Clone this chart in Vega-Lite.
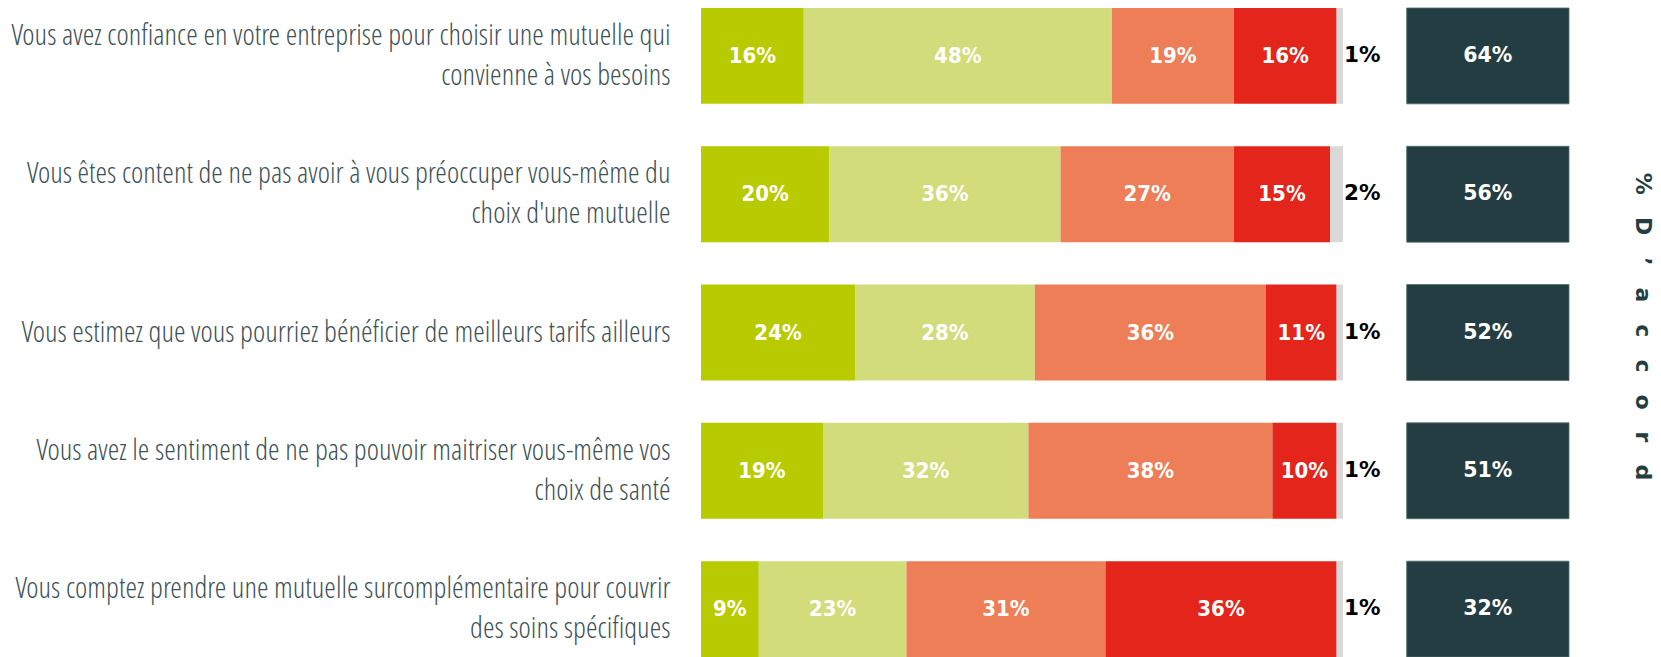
{
  "$schema": "https://vega.github.io/schema/vega-lite/v6.json",
  "autosize": "none",
  "width": 960,
  "height": 649,
  "padding": {"left": 701, "top": 8, "right": 0, "bottom": 0},
  "background": "white",
  "config": {"view": {"stroke": null}, "axis": {"grid": false}},
  "datasets": {
    "reponses": [
      {"question": "Vous avez confiance en votre entreprise pour choisir une mutuelle qui|convienne à vos besoins", "categorie": "Tout à fait d'accord", "ordre": 1, "valeur": 0.16},
      {"question": "Vous avez confiance en votre entreprise pour choisir une mutuelle qui|convienne à vos besoins", "categorie": "Plutôt d'accord", "ordre": 2, "valeur": 0.48},
      {"question": "Vous avez confiance en votre entreprise pour choisir une mutuelle qui|convienne à vos besoins", "categorie": "Plutôt pas d'accord", "ordre": 3, "valeur": 0.19},
      {"question": "Vous avez confiance en votre entreprise pour choisir une mutuelle qui|convienne à vos besoins", "categorie": "Pas du tout d'accord", "ordre": 4, "valeur": 0.16},
      {"question": "Vous avez confiance en votre entreprise pour choisir une mutuelle qui|convienne à vos besoins", "categorie": "NSP", "ordre": 5, "valeur": 0.01},
      {"question": "Vous êtes content de ne pas avoir à vous préoccuper vous-même du|choix d'une mutuelle", "categorie": "Tout à fait d'accord", "ordre": 1, "valeur": 0.20},
      {"question": "Vous êtes content de ne pas avoir à vous préoccuper vous-même du|choix d'une mutuelle", "categorie": "Plutôt d'accord", "ordre": 2, "valeur": 0.36},
      {"question": "Vous êtes content de ne pas avoir à vous préoccuper vous-même du|choix d'une mutuelle", "categorie": "Plutôt pas d'accord", "ordre": 3, "valeur": 0.27},
      {"question": "Vous êtes content de ne pas avoir à vous préoccuper vous-même du|choix d'une mutuelle", "categorie": "Pas du tout d'accord", "ordre": 4, "valeur": 0.15},
      {"question": "Vous êtes content de ne pas avoir à vous préoccuper vous-même du|choix d'une mutuelle", "categorie": "NSP", "ordre": 5, "valeur": 0.02},
      {"question": "Vous estimez que vous pourriez bénéficier de meilleurs tarifs ailleurs", "categorie": "Tout à fait d'accord", "ordre": 1, "valeur": 0.24},
      {"question": "Vous estimez que vous pourriez bénéficier de meilleurs tarifs ailleurs", "categorie": "Plutôt d'accord", "ordre": 2, "valeur": 0.28},
      {"question": "Vous estimez que vous pourriez bénéficier de meilleurs tarifs ailleurs", "categorie": "Plutôt pas d'accord", "ordre": 3, "valeur": 0.36},
      {"question": "Vous estimez que vous pourriez bénéficier de meilleurs tarifs ailleurs", "categorie": "Pas du tout d'accord", "ordre": 4, "valeur": 0.11},
      {"question": "Vous estimez que vous pourriez bénéficier de meilleurs tarifs ailleurs", "categorie": "NSP", "ordre": 5, "valeur": 0.01},
      {"question": "Vous avez le sentiment de ne pas pouvoir maitriser vous-même vos|choix de santé", "categorie": "Tout à fait d'accord", "ordre": 1, "valeur": 0.19},
      {"question": "Vous avez le sentiment de ne pas pouvoir maitriser vous-même vos|choix de santé", "categorie": "Plutôt d'accord", "ordre": 2, "valeur": 0.32},
      {"question": "Vous avez le sentiment de ne pas pouvoir maitriser vous-même vos|choix de santé", "categorie": "Plutôt pas d'accord", "ordre": 3, "valeur": 0.38},
      {"question": "Vous avez le sentiment de ne pas pouvoir maitriser vous-même vos|choix de santé", "categorie": "Pas du tout d'accord", "ordre": 4, "valeur": 0.10},
      {"question": "Vous avez le sentiment de ne pas pouvoir maitriser vous-même vos|choix de santé", "categorie": "NSP", "ordre": 5, "valeur": 0.01},
      {"question": "Vous comptez prendre une mutuelle surcomplémentaire pour couvrir|des soins spécifiques", "categorie": "Tout à fait d'accord", "ordre": 1, "valeur": 0.09},
      {"question": "Vous comptez prendre une mutuelle surcomplémentaire pour couvrir|des soins spécifiques", "categorie": "Plutôt d'accord", "ordre": 2, "valeur": 0.23},
      {"question": "Vous comptez prendre une mutuelle surcomplémentaire pour couvrir|des soins spécifiques", "categorie": "Plutôt pas d'accord", "ordre": 3, "valeur": 0.31},
      {"question": "Vous comptez prendre une mutuelle surcomplémentaire pour couvrir|des soins spécifiques", "categorie": "Pas du tout d'accord", "ordre": 4, "valeur": 0.36},
      {"question": "Vous comptez prendre une mutuelle surcomplémentaire pour couvrir|des soins spécifiques", "categorie": "NSP", "ordre": 5, "valeur": 0.01}
    ],
    "totaux": [
      {"question": "Vous avez confiance en votre entreprise pour choisir une mutuelle qui|convienne à vos besoins", "accord": 0.64},
      {"question": "Vous êtes content de ne pas avoir à vous préoccuper vous-même du|choix d'une mutuelle", "accord": 0.56},
      {"question": "Vous estimez que vous pourriez bénéficier de meilleurs tarifs ailleurs", "accord": 0.52},
      {"question": "Vous avez le sentiment de ne pas pouvoir maitriser vous-même vos|choix de santé", "accord": 0.51},
      {"question": "Vous comptez prendre une mutuelle surcomplémentaire pour couvrir|des soins spécifiques", "accord": 0.32}
    ]
  },
  "resolve": {"axis": {"y": "independent"}},
  "layer": [
    {
      "data": {"name": "reponses"},
      "transform": [
        {"stack": "valeur", "groupby": ["question"], "sort": [{"field": "ordre", "order": "ascending"}], "as": ["debut", "fin"]},
        {"calculate": "(datum.debut + datum.fin) / 2", "as": "milieu"}
      ],
      "encoding": {
        "y": {
          "field": "question", "type": "nominal", "sort": null,
          "scale": {
            "domain": [
              "Vous avez confiance en votre entreprise pour choisir une mutuelle qui|convienne à vos besoins",
              "Vous êtes content de ne pas avoir à vous préoccuper vous-même du|choix d'une mutuelle",
              "Vous estimez que vous pourriez bénéficier de meilleurs tarifs ailleurs",
              "Vous avez le sentiment de ne pas pouvoir maitriser vous-même vos|choix de santé",
              "Vous comptez prendre une mutuelle surcomplémentaire pour couvrir|des soins spécifiques"
            ],
            "paddingInner": 0.307, "paddingOuter": 0
          },
          "axis": {
            "title": null, "domain": false, "ticks": false,
            "labelExpr": "split(datum.label, '|')",
            "labelFont": "'Open Sans Condensed Light', 'Open Sans Condensed', Roboto",
            "labelFontWeight": 300,
            "labelFontSize": 29.5,
            "labelColor": "#3e5257", "labelLineHeight": 40,
            "labelPadding": 31, "labelLimit": 0, "labelAlign": "right",
            "labelBaseline": {"condition": {"test": "indexof(datum.value, '|') >= 0", "value": "line-bottom"}, "value": "middle"}
          }
        }
      },
      "layer": [
        {
          "mark": {"type": "bar"},
          "encoding": {
            "x": {"field": "debut", "type": "quantitative", "scale": {"domain": [0, 1.4953], "nice": false}, "axis": null},
            "x2": {"field": "fin"},
            "color": {
              "field": "categorie", "type": "nominal", "legend": null,
              "scale": {
                "domain": ["Tout à fait d'accord", "Plutôt d'accord", "Plutôt pas d'accord", "Pas du tout d'accord", "NSP"],
                "range": ["#b8cb00", "#d2dc7a", "#ed7e58", "#e3251b", "#d9d9d9"]
              }
            }
          }
        },
        {
          "transform": [{"filter": "datum.categorie !== 'NSP'"}],
          "mark": {"type": "text", "color": "white", "font": "DejaVu Sans Condensed", "fontWeight": "bold", "fontSize": 22, "baseline": "middle", "align": "center"},
          "encoding": {
            "x": {"field": "milieu", "type": "quantitative", "axis": null},
            "text": {"field": "valeur", "type": "quantitative", "format": ".0%"}
          }
        },
        {
          "transform": [{"filter": "datum.categorie === 'NSP'"}],
          "mark": {"type": "text", "color": "black", "font": "DejaVu Sans", "fontWeight": "bold", "fontSize": 21.5, "baseline": "middle", "align": "left", "dx": 1},
          "encoding": {
            "x": {"field": "fin", "type": "quantitative", "axis": null},
            "text": {"field": "valeur", "type": "quantitative", "format": ".0%"}
          }
        }
      ]
    },
    {
      "data": {"name": "totaux"},
      "encoding": {
        "y": {
          "field": "question", "type": "nominal", "sort": null,
          "axis": {
            "orient": "right", "labels": false, "ticks": false, "domain": false,
            "title": "%\u2003D\u2003’\u2003a\u2003c\u2003c\u2003o\u2003r\u2003d",
            "titleAngle": 90, "titleX": -19, "titleY": 318,
            "titleAlign": "center", "titleBaseline": "middle",
            "titleFont": "DejaVu Sans", "titleFontWeight": "bold", "titleFontSize": 22, "titleColor": "#233d43"
          }
        }
      },
      "layer": [
        {
          "mark": {"type": "bar", "color": "#233d43", "stroke": "#4f6d68", "strokeWidth": 0.8},
          "encoding": {
            "x": {"datum": 1.0992, "type": "quantitative", "axis": null},
            "x2": {"datum": 1.352}
          }
        },
        {
          "mark": {"type": "text", "color": "white", "font": "DejaVu Sans", "fontWeight": "bold", "fontSize": 20.5, "baseline": "middle", "align": "center"},
          "encoding": {
            "x": {"datum": 1.2256, "type": "quantitative", "axis": null},
            "text": {"field": "accord", "type": "quantitative", "format": ".0%"}
          }
        }
      ]
    }
  ]
}
